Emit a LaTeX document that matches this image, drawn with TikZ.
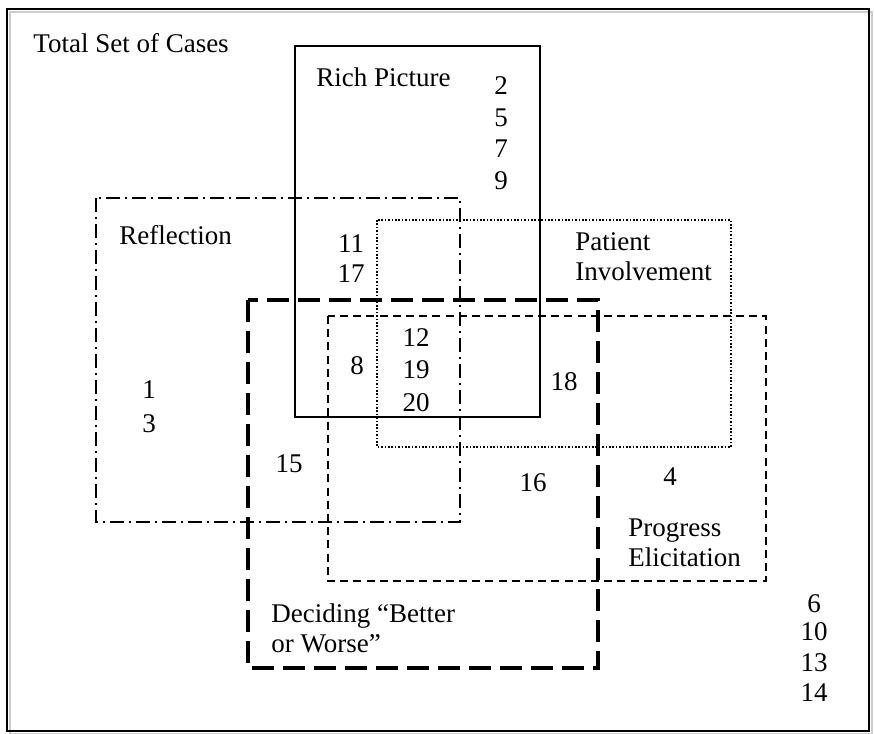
\documentclass[tikz,border=0pt]{standalone}
\usepackage{fontspec}
\setmainfont{Liberation Serif}
\usepackage{tikz}

\tikzset{
  lbl/.style={anchor=west, inner sep=0pt, font=\fontsize{13.5}{15}\selectfont},
  num/.style={anchor=center, inner sep=0pt, font=\fontsize{13.5}{15}\selectfont},
  richbox/.style={line width=1pt},
  reflbox/.style={line width=1pt, dash pattern=on 7pt off 2.5pt on 1pt off 2.5pt},
  patbox/.style={line width=0.6pt, dash pattern=on 0.8pt off 0.9pt},
  decbox/.style={line width=1.6pt, dash pattern=on 11pt off 4.5pt},
  progbox/.style={line width=0.8pt, dash pattern=on 4pt off 2.6pt}
}

\begin{document}
\begin{tikzpicture}[x=0.5pt, y=-0.5pt]
  \useasboundingbox (0,0) rectangle (874,734);
  % outer set
  \draw[line width=1.3pt, gray!40] (10,12) rectangle (872,734);
  \draw[line width=1.2pt] (7,9) rectangle (869,731);
  \node[lbl] (total) at (33,43) {Total Set of Cases};
  % the five sets
  \draw[richbox] (295,46) rectangle (540,417);            % Rich Picture
  \draw[reflbox] (96,198) rectangle (460,522);            % Reflection
  \draw[patbox]  (377,220) rectangle (731,447);           % Patient Involvement
  \draw[progbox] (328,316) rectangle (766,581);           % Progress Elicitation
  \draw[decbox]  (248,300) rectangle (598,668);           % Deciding
  % set labels
  \node[lbl] (rich) at (316,77) {Rich Picture};
  \node[lbl] (refl) at (119,235) {Reflection};
  \node[lbl, align=left] (pat) at (575,257) {Patient\\Involvement};
  \node[lbl, align=left] (prog) at (628,543) {Progress\\Elicitation};
  \node[lbl, align=left] (dec) at (271,628) {Deciding ``Better\\or Worse''};
  % cases
  \node[num] (c2) at (501,86) {2};
  \node[num] (c5) at (501,118) {5};
  \node[num] (c7) at (501,149) {7};
  \node[num] (c9) at (501,181) {9};
  \node[num] (c11) at (351,244) {11};
  \node[num] (c17) at (351,274) {17};
  \node[num] (c12) at (416,338) {12};
  \node[num] (c19) at (416,370) {19};
  \node[num] (c20) at (416,403) {20};
  \node[num] (c8) at (357,366) {8};
  \node[num] (c18) at (564,382) {18};
  \node[num] (c1) at (149,390) {1};
  \node[num] (c3) at (149,424) {3};
  \node[num] (c15) at (289,464) {15};
  \node[num] (c16) at (533,483) {16};
  \node[num] (c4) at (670,477) {4};
  \node[num] (c6) at (814,604) {6};
  \node[num] (c10) at (814,632) {10};
  \node[num] (c13) at (814,663) {13};
  \node[num] (c14) at (814,693) {14};
\end{tikzpicture}
\end{document}
